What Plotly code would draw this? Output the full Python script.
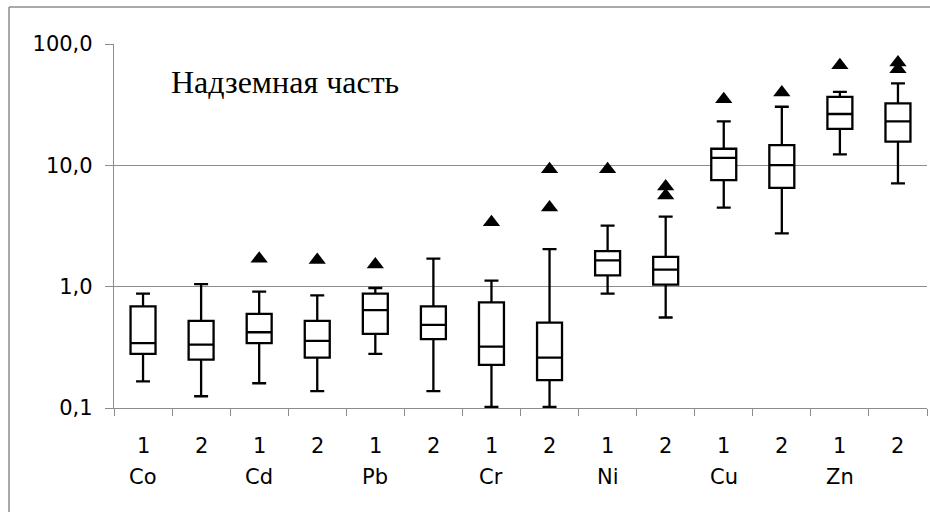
import plotly.graph_objects as go

# ---- data ----
elements = ["Co", "Cd", "Pb", "Cr", "Ni", "Cu", "Zn"]
subgroups = ["1", "2"]
categories = [f"{e} {s}" for e in elements for s in subgroups]

lower_whisker = [0.166, 0.125, 0.160, 0.138, 0.279, 0.138, 0.102, 0.102, 0.875, 0.557, 4.49, 2.75, 12.3, 7.1]
q1_vals       = [0.279, 0.250, 0.342, 0.260, 0.408, 0.369, 0.227, 0.170, 1.24, 1.04, 7.55, 6.53, 20.0, 15.7]
median_vals   = [0.342, 0.333, 0.421, 0.357, 0.641, 0.485, 0.320, 0.260, 1.65, 1.38, 11.5, 10.05, 26.5, 23.0]
q3_vals       = [0.687, 0.523, 0.597, 0.523, 0.875, 0.687, 0.741, 0.506, 1.96, 1.76, 13.7, 14.7, 36.6, 32.4]
upper_whisker = [0.875, 1.05, 0.91, 0.848, 0.975, 1.70, 1.12, 2.04, 3.18, 3.78, 23.0, 30.4, 40.3, 47.4]

# outliers: (category index, value)
outlier_cat = [2, 3, 4, 6, 7, 7, 8, 9, 9, 10, 11, 12, 13, 13]
outlier_val = [1.70, 1.66, 1.52, 3.39, 9.27, 4.50, 9.27, 6.7, 5.65, 35.0, 39.8, 66.9, 70.4, 61.9]

y_tickvals = [0.1, 1, 10, 100]
y_ticktext = ["0,1", "1,0", "10,0", "100,0"]
title_text = "Надземная часть"

# ---- figure ----
xs = list(range(len(categories)))
fig = go.Figure()
fig.add_trace(go.Box(
    x=xs, q1=q1_vals, median=median_vals, q3=q3_vals,
    lowerfence=lower_whisker, upperfence=upper_whisker,
    boxpoints=False, width=0.43, whiskerwidth=0.56,
    fillcolor="white", line=dict(color="black", width=2.3),
    hoverinfo="skip", showlegend=False,
))
fig.add_trace(go.Scatter(
    x=outlier_cat, y=outlier_val, mode="markers",
    marker=dict(symbol="triangle-up", size=15, color="black"),
    showlegend=False, hoverinfo="skip",
))

grid = "#8c8c8c"
label_font = dict(family="DejaVu Sans", size=21, color="black")
fig.update_xaxes(
    range=[-0.5, len(categories) - 0.5],
    tickvals=[i - 0.5 for i in range(len(categories) + 1)],
    ticktext=["" for _ in range(len(categories) + 1)],
    ticks="outside", ticklen=7, tickcolor=grid, tickwidth=1.3,
    showline=True, linecolor=grid, linewidth=1.3,
    showgrid=False, zeroline=False,
)
fig.update_yaxes(
    type="log", range=[-1, 2],
    tickvals=y_tickvals, ticktext=y_ticktext,
    ticks="outside", ticklen=8, tickcolor=grid, tickwidth=1.3,
    showline=True, linecolor=grid, linewidth=1.3,
    showgrid=True, gridcolor=grid, gridwidth=1.3,
    tickfont=label_font,
    ticklabelstandoff=8,
)

annotations = []
for i, cat in enumerate(categories):
    annotations.append(dict(
        x=i, y=-0.104, xref="x", yref="paper", text=subgroups[i % 2],
        showarrow=False, xanchor="center", yanchor="middle",
        font=label_font,
    ))
for j, el in enumerate(elements):
    annotations.append(dict(
        x=2 * j, y=-0.19, xref="x", yref="paper", text=el,
        showarrow=False, xanchor="center", yanchor="middle",
        font=label_font,
    ))
annotations.append(dict(
    x=0.068, y=0.895, xref="paper", yref="paper", text=title_text,
    showarrow=False, xanchor="left", yanchor="middle",
    font=dict(family="Liberation Serif", size=32, color="black"),
))

# chart-area frame: left and top edges (right/bottom fall outside the window)
bx = (9 - 114) / 813
by = (408 - 7) / 364
frame = dict(type="line", xref="paper", yref="paper",
             line=dict(color=grid, width=1.5), layer="below")
fig.update_layout(
    width=930, height=512,
    margin=dict(l=114, r=3, t=44, b=104),
    paper_bgcolor="white", plot_bgcolor="white",
    annotations=annotations,
    shapes=[
        dict(frame, x0=bx, x1=bx, y0=-0.3, y1=by),
        dict(frame, x0=bx, x1=1.01, y0=by, y1=by),
    ],
)

# remove the default 8px page margin so the 930x512 figure fills the window exactly
fig.write_html(
    "out.html",
    config={"displayModeBar": False},
    post_script="document.body.style.margin='0px';document.body.style.overflow='hidden';",
)
